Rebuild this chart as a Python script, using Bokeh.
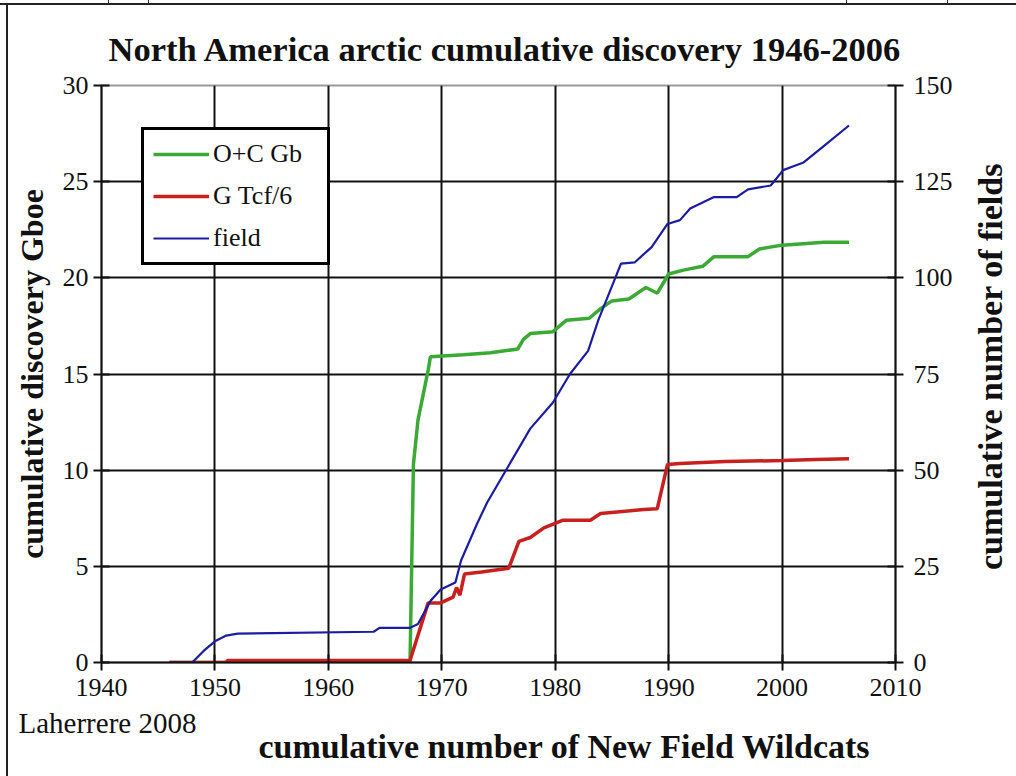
import math
from bokeh.plotting import figure
from bokeh.layouts import row
from bokeh.models import LinearAxis, Range1d, FixedTicker, Legend, LegendItem, Title, Label
from bokeh.embed import file_html
from bokeh.resources import INLINE

# ---------------- data ----------------
field_year = [1946, 1948, 1949, 1950, 1951, 1952, 1964, 1964.5, 1967.2, 1967.9, 1969,
              1969.9, 1971.2, 1971.7, 1973.1, 1974, 1975.8, 1977.8, 1979.8, 1981.3,
              1982.9, 1983.8, 1985.8, 1987, 1988.5, 1989.9, 1991, 1991.9, 1994, 1996,
              1997, 1999, 2000.1, 2001, 2001.9, 2003.4, 2005.9]
field_n = [0, 0, 3, 5.5, 7, 7.5, 8, 9, 9, 10, 16,
           19, 20.8, 26.5, 36, 41.6, 50.7, 60.8, 67.6, 75,
           81, 89, 103.7, 104, 108, 114, 115, 118, 121, 121,
           123, 124, 128, 129, 130, 133.6, 139.6]

oc_year = [1946, 1967.2, 1967.5, 1967.9, 1968.8, 1969, 1971.9, 1974.3, 1976.7, 1977.2,
           1977.8, 1979.8, 1981, 1983, 1984, 1985, 1986.5, 1987.5, 1988, 1989, 1990,
           1991.3, 1993, 1994, 1997, 1998, 2000, 2003.7, 2005.9]
oc_gb = [0, 0, 10.3, 12.6, 15.2, 15.9, 16.0, 16.1, 16.3, 16.8,
         17.1, 17.2, 17.8, 17.9, 18.4, 18.8, 18.9, 19.3, 19.5, 19.2, 20.2,
         20.4, 20.6, 21.1, 21.1, 21.5, 21.7, 21.85, 21.85]

gas_year = [1946, 1951, 1951.1, 1967.2, 1968.8, 1969.9, 1971, 1971.3, 1971.6, 1972,
            1973.5, 1975.9, 1976.8, 1977.8, 1979, 1980.7, 1983.1, 1984, 1987.8, 1989,
            1989.9, 1991, 1995, 2000, 2003, 2005.9]
gas_tcf6 = [0, 0, 0.1, 0.1, 3.1, 3.1, 3.4, 3.9, 3.5, 4.6,
            4.7, 4.9, 6.3, 6.5, 7.0, 7.4, 7.4, 7.75, 7.95, 8.0,
            10.3, 10.35, 10.45, 10.5, 10.55, 10.6]

x_ticks = [1940, 1950, 1960, 1970, 1980, 1990, 2000, 2010]
left_ticks = [0, 5, 10, 15, 20, 25, 30]
right_ticks = [0, 25, 50, 75, 100, 125, 150]

TITLE = "North America arctic cumulative discovery 1946-2006"
XLABEL = "cumulative number of New Field Wildcats"
YLABEL = "cumulative discovery Gboe"
Y2LABEL = "cumulative number of fields"
CREDIT = "Laherrere 2008"

SERIF = "Liberation Serif"
GREEN = "#3aaa35"
RED = "#c8201e"
BLUE = "#1c1ca0"
INK = "#111111"

# ---------------- main figure ----------------
p = figure(width=960, height=776, x_range=Range1d(1940, 2010), y_range=Range1d(0, 30),
           output_backend="svg", toolbar_location=None,
           min_border_left=101, min_border_right=65, min_border_top=85, min_border_bottom=114,
           title=TITLE)
p.border_fill_alpha = 0
p.extra_y_ranges = {"fields": Range1d(0, 150)}

p.title.text_font = SERIF
p.title.text_font_size = "34.5px"
p.title.text_font_style = "bold"
p.title.text_color = INK
p.title.align = "left"
p.title.offset = 7
p.title.standoff = 35

p.outline_line_color = "#999999"
p.outline_line_width = 2

# axes
p.xaxis.ticker = FixedTicker(ticks=x_ticks)
p.yaxis.ticker = FixedTicker(ticks=left_ticks)
right = LinearAxis(y_range_name="fields", ticker=FixedTicker(ticks=right_ticks))
p.add_layout(right, "right")
p.yaxis[0].axis_label = YLABEL

for ax in [p.xaxis[0], p.yaxis[0], right]:
    ax.axis_line_color = INK
    ax.axis_line_width = 2
    ax.major_tick_line_color = INK
    ax.major_tick_line_width = 2
    ax.major_tick_in = 8
    ax.major_tick_out = 8
    ax.minor_tick_line_color = None
    ax.major_label_text_font = SERIF
    ax.major_label_text_font_size = "26px"
    ax.major_label_text_color = INK
    ax.axis_label_text_font = SERIF
    ax.axis_label_text_font_size = "32px"
    ax.axis_label_text_font_style = "bold"
    ax.axis_label_text_color = INK

p.xaxis.major_label_standoff = 8
p.yaxis[0].major_label_standoff = 5
p.yaxis[0].axis_label_standoff = 10
right.major_label_standoff = 10

# grid
p.xgrid.ticker = FixedTicker(ticks=x_ticks[1:-1])
p.ygrid.ticker = FixedTicker(ticks=left_ticks[1:-1])
p.xgrid.grid_line_color = INK
p.ygrid.grid_line_color = INK
p.xgrid.grid_line_width = 2
p.ygrid.grid_line_width = 2

# series
r_oc = p.line(oc_year, oc_gb, line_color=GREEN, line_width=3.5)
r_gas = p.line(gas_year, gas_tcf6, line_color=RED, line_width=3.5)
r_field = p.line(field_year, field_n, line_color=BLUE, line_width=2.2, y_range_name="fields")

legend = Legend(items=[LegendItem(label="O+C Gb", renderers=[r_oc]),
                       LegendItem(label="G Tcf/6", renderers=[r_gas]),
                       LegendItem(label="field", renderers=[r_field])],
                location=(40, 397), orientation="vertical",
                border_line_color="black", border_line_width=3, border_line_alpha=1,
                background_fill_color="white", background_fill_alpha=1,
                glyph_width=56, glyph_height=24, label_height=24, label_width=105,
                label_standoff=4, spacing=12, padding=9, margin=0,
                label_text_font=SERIF, label_text_font_size="26px", label_text_color=INK)
p.add_layout(legend)

# credit and x-axis title in the bottom panel
credit = Title(text=CREDIT, align="left", offset=-83, standoff=12,
               text_font=SERIF, text_font_size="29px", text_font_style="normal",
               text_color=INK)
xlabel = Title(text=XLABEL, align="left", offset=157, standoff=-37,
               text_font=SERIF, text_font_size="34px", text_font_style="bold",
               text_color=INK)
p.add_layout(credit, "below")
p.add_layout(xlabel, "below")

# ---------------- narrow strip for the right-hand axis title ----------------
p2 = figure(width=56, height=776, x_range=Range1d(0, 1), y_range=Range1d(0, 1),
            output_backend="svg", toolbar_location=None,
            x_axis_type=None, y_axis_type=None,
            min_border_left=0, min_border_right=0, min_border_top=0, min_border_bottom=0)
p2.grid.visible = False
p2.outline_line_color = None
p2.background_fill_alpha = 0
p2.border_fill_alpha = 0
p2.add_layout(Label(x=30, y=296, x_units="screen", y_units="screen", text=Y2LABEL,
                    angle=math.pi / 2, text_align="center", text_baseline="middle",
                    text_font=SERIF, text_font_size="34px", text_font_style="bold",
                    text_color=INK))

layout = row(p, p2, spacing=0)
# frame lines of the page: left and top border plus the small marks of the strip above
layout.styles = {
    "background-image": ", ".join(["linear-gradient(#222222, #222222)"] * 6),
    "background-position": "6px 3px, 0px 3px, 108px 0px, 148px 0px, 846px 0px, 947px 0px",
    "background-size": "2px 100%, 100% 2px, 1px 3px, 1px 3px, 1px 3px, 1px 3px",
    "background-repeat": "no-repeat",
}

open("out.html", "w").write(file_html(layout, INLINE))
